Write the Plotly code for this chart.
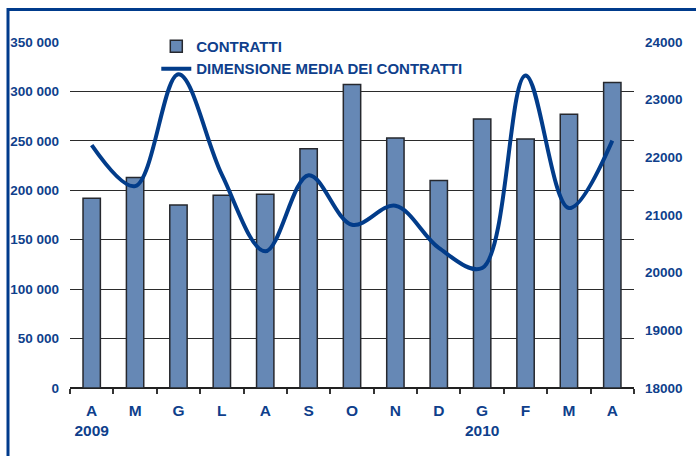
import plotly.graph_objects as go

categories = ["A<br>2009", "M", "G", "L", "A", "S", "O", "N", "D", "G<br>2010", "F", "M", "A"]
cat_ids = ["A09", "M09", "G09", "L09", "A09b", "S09", "O09", "N09", "D09", "G10", "F10", "M10", "A10"]
contratti = [192000, 213000, 185000, 195000, 196000, 242000, 307000, 253000, 210000, 272000, 252000, 277000, 309000]
dimensione_media = [22210, 21500, 23440, 21700, 20370, 21690, 20830, 21160, 20430, 20080, 23420, 21120, 22290]
left_ticks = [0, 50000, 100000, 150000, 200000, 250000, 300000, 350000]
right_ticks = [18000, 19000, 20000, 21000, 22000, 23000, 24000]

TXT = "#0f3f8c"
FONT = "Liberation Sans, Arial, sans-serif"

fig = go.Figure()
fig.add_trace(go.Bar(
    x=cat_ids, y=contratti, name="CONTRATTI",
    marker=dict(color="#6688b5", line=dict(color="#26282e", width=1.5)),
    yaxis="y",
))
fig.add_trace(go.Scatter(
    x=cat_ids, y=dimensione_media, name="DIMENSIONE MEDIA DEI CONTRATTI",
    mode="lines", line=dict(color="#023c8a", width=4, shape="spline", smoothing=1.0),
    yaxis="y2",
))

fig.update_layout(
    width=696, height=456,
    margin=dict(l=70, r=62, t=42, b=68, autoexpand=False),
    paper_bgcolor="white", plot_bgcolor="white",
    separators=", ",
    bargap=0.6,
    font=dict(family=FONT, color=TXT, size=13),
    showlegend=True,
    legend=dict(
        x=0.153, y=1.035, xanchor="left", yanchor="top",
        bgcolor="rgba(0,0,0,0)",
        font=dict(family=FONT, size=15, color=TXT, weight="bold"),
        tracegroupgap=0, itemwidth=30,
    ),
    xaxis=dict(
        type="category",
        tickmode="array", tickvals=cat_ids, ticktext=categories,
        tickson="boundaries", tickangle=0,
        ticks="outside", ticklen=5, tickwidth=1.5, tickcolor="#333333",
        showline=False, showgrid=False, zeroline=False,
        tickfont=dict(family=FONT, size=15.5, color=TXT, weight="bold"),
        ticklabelstandoff=11,
    ),
    yaxis=dict(
        range=[0, 350000],
        tickmode="array", tickvals=left_ticks,
        tickformat=",d",
        showgrid=True, gridcolor="#2b2b2b", gridwidth=1,
        zeroline=True, zerolinecolor="#222222", zerolinewidth=1.5,
        showline=False, ticks="",
        tickfont=dict(family=FONT, size=13.5, color=TXT, weight="bold"),
        ticklabelstandoff=10,
    ),
    yaxis2=dict(
        range=[18000, 24000], overlaying="y", side="right",
        tickmode="array", tickvals=right_ticks,
        tickformat="d",
        showgrid=False, zeroline=False, showline=False, ticks="",
        tickfont=dict(family=FONT, size=13.5, color=TXT, weight="bold"),
        ticklabelstandoff=10,
    ),
    shapes=[
        dict(type="rect", xref="paper", yref="paper",
             x0=(102 - 70) / 564, x1=(531 - 70) / 564,
             y0=1 - 3 / 346, y1=1 + 3 / 346,
             fillcolor="white", line=dict(width=0), layer="above"),
        dict(type="rect", xref="paper", yref="paper",
             x0=(8 - 70) / 564, x1=1.25,
             y0=-0.4, y1=1 + (42 - 9.5) / 346,
             fillcolor="rgba(0,0,0,0)", line=dict(color="#003b8c", width=3),
             layer="above"),
    ],
)

fig.write_html("out.html", config={"displayModeBar": False},
               post_script="document.body.style.margin='0';document.body.style.padding='0';")
